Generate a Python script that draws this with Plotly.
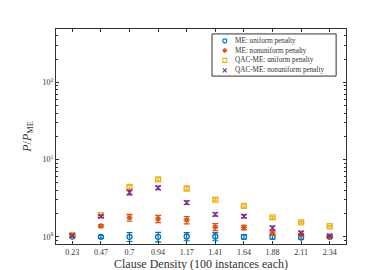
import plotly.graph_objects as go

categories = ["0.23", "0.47", "0.7", "0.94", "1.17", "1.41", "1.64", "1.88", "2.11", "2.34"]

me_uniform = [1.01, 1.00, 1.00, 1.00, 1.01, 1.01, 1.00, 1.00, 0.98, 1.00]
me_uniform_err = [0.03, 0.04, 0.13, 0.14, 0.12, 0.12, 0.07, 0.07, 0.05, 0.03]

me_nonuniform = [1.04, 1.38, 1.77, 1.71, 1.65, 1.34, 1.32, 1.10, 1.06, 1.00]
me_nonuniform_err = [0.04, 0.05, 0.18, 0.18, 0.18, 0.14, 0.09, 0.06, 0.05, 0.03]

qac_uniform = [1.05, 1.91, 4.43, 5.55, 4.22, 3.03, 2.51, 1.78, 1.54, 1.37]
qac_uniform_err = [0.04, 0.06, 0.22, 0.25, 0.2, 0.12, 0.09, 0.06, 0.04, 0.03]

qac_nonuniform = [1.04, 1.84, 3.75, 4.31, 2.77, 1.95, 1.85, 1.30, 1.12, 1.03]
qac_nonuniform_err = [0.04, 0.07, 0.25, 0.22, 0.15, 0.1, 0.09, 0.08, 0.06, 0.03]

major_ticks = [1, 10, 100]
major_labels = ["10<sup>0</sup>", "10<sup>1</sup>", "10<sup>2</sup>"]

series_names = ["ME: uniform penalty", "ME: nonuniform penalty",
                "QAC-ME: uniform penalty", "QAC-ME: nonuniform penalty"]
series_values = [me_uniform, me_nonuniform, qac_uniform, qac_nonuniform]
series_errors = [me_uniform_err, me_nonuniform_err, qac_uniform_err, qac_nonuniform_err]
series_colors = ["#0072BD", "#D95319", "#EDB120", "#7E2F8E"]
series_symbols = ["circle-open", "asterisk-open", "square-open", "x-thin-open"]

fig = go.Figure()
for name, vals, errs, color, sym in zip(series_names, series_values, series_errors,
                                        series_colors, series_symbols):
    fig.add_trace(go.Scatter(
        x=categories, y=vals, mode="markers", name=name, showlegend=False,
        marker=dict(symbol=sym, size=5, color=color, line=dict(color=color, width=1.3)),
        error_y=dict(type="data", array=errs, visible=True, color=color, thickness=1.2, width=3),
    ))

# Compact legend (drawn in paper space on an overlay axis)
leg_x0, leg_x1, leg_y0, leg_y1 = 0.538, 0.966, 0.781, 0.977
row_y = [0.945, 0.900, 0.854, 0.808]
fig.add_shape(type="rect", xref="paper", yref="paper", x0=leg_x0, x1=leg_x1, y0=leg_y0, y1=leg_y1,
              line=dict(color="#333333", width=1), fillcolor="white", layer="below")
for i, (name, color, sym) in enumerate(zip(series_names, series_colors, series_symbols)):
    fig.add_trace(go.Scatter(
        x=[0.582], y=[row_y[i]], xaxis="x2", yaxis="y2", mode="markers", showlegend=False,
        hoverinfo="skip",
        marker=dict(symbol=sym, size=4, color=color, line=dict(color=color, width=1.1)),
    ))
    fig.add_annotation(x=0.612, y=row_y[i], xref="paper", yref="paper", text=name,
                       showarrow=False, xanchor="left", yanchor="middle",
                       font=dict(size=7.2, color="#333333"))

minor_vals = [d * m for d in [0.1, 1, 10, 100] for m in range(2, 10) if 0.8 <= d * m <= 500]

font = "Liberation Serif, Times New Roman, serif"
fig.update_layout(
    width=374, height=270,
    margin=dict(l=48, r=36, t=21, b=30),
    paper_bgcolor="white", plot_bgcolor="white",
    font=dict(family=font, size=8, color="#333333"),
    showlegend=False,
    xaxis=dict(
        type="category", range=[-0.57, 9.57],
        showline=True, linecolor="#333333", linewidth=1, mirror="ticks",
        ticks="inside", ticklen=3, tickcolor="#333333",
        showgrid=False, zeroline=False,
        tickfont=dict(size=8),
        title=dict(text="Clause Density (100 instances each)", font=dict(size=12), standoff=1),
    ),
    yaxis=dict(
        type="log", range=[-0.093, 2.69],
        showline=True, linecolor="#333333", linewidth=1, mirror="ticks",
        ticks="inside", ticklen=3, tickcolor="#333333",
        tickmode="array", tickvals=major_ticks, ticktext=major_labels,
        minor=dict(tickmode="array", tickvals=minor_vals, ticks="inside", ticklen=2,
                   tickcolor="#333333", showgrid=False),
        showgrid=False, zeroline=False,
        tickfont=dict(size=8),
        title=dict(text="<i>P</i>/<i>P</i><sub>ME</sub>", font=dict(size=12), standoff=8),
    ),
    xaxis2=dict(overlaying="x", range=[0, 1], visible=False, fixedrange=True),
    yaxis2=dict(overlaying="y", range=[0, 1], visible=False, fixedrange=True),
)

fig.write_html("out.html")
